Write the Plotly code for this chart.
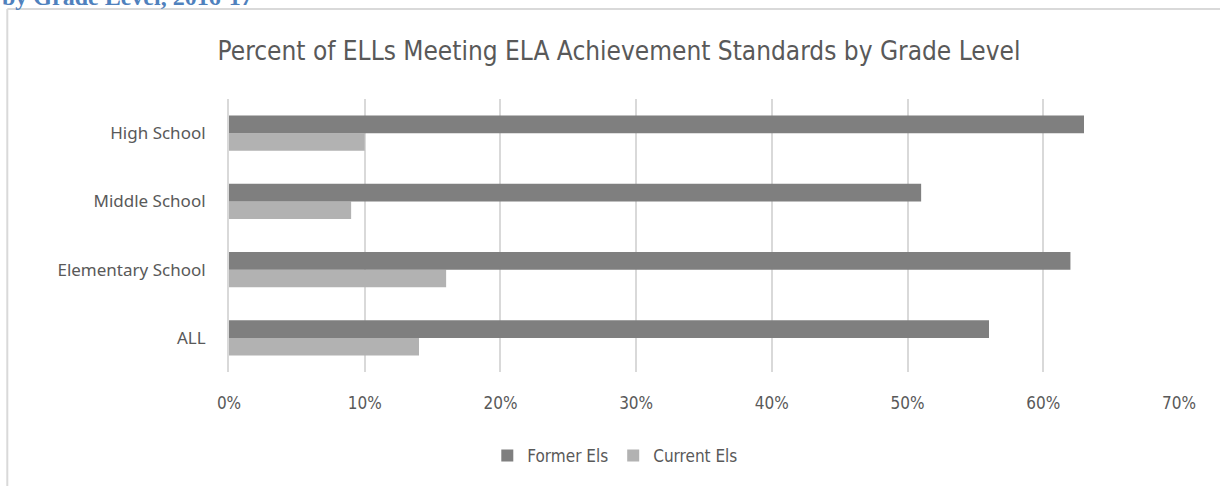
import plotly.graph_objects as go

categories = ["ALL", "Elementary School", "Middle School", "High School"]
former_els = [0.56, 0.62, 0.51, 0.63]
current_els = [0.14, 0.16, 0.09, 0.10]
tick_vals = [0, 0.1, 0.2, 0.3, 0.4, 0.5, 0.6, 0.7]
tick_text = ["0%", "10%", "20%", "30%", "40%", "50%", "60%", "70%"]

W, H = 1220, 486
L, R = 228.7, 1178.7
T, B = 99, 372
pw, ph = R - L, B - T

NARROW = "'Liberation Sans Narrow', 'Arial Narrow', 'DejaVu Sans Condensed', 'Roboto Condensed', sans-serif"

def px(x):
    return (x - L) / pw

def py(y):
    return (B - y) / ph

fig = go.Figure()
fig.add_trace(go.Bar(
    y=categories, x=current_els, name="Current Els", orientation="h",
    marker=dict(color="#b2b2b2", line=dict(width=0)),
))
fig.add_trace(go.Bar(
    y=categories, x=former_els, name="Former Els", orientation="h",
    marker=dict(color="#7f7f7f", line=dict(width=0)),
))

fig.update_layout(
    width=W, height=H,
    margin=dict(l=L, r=W - R, t=T, b=H - B, pad=0, autoexpand=False),
    paper_bgcolor="white", plot_bgcolor="white",
    barmode="group", bargap=0.48, bargroupgap=0,
    showlegend=True,
    legend=dict(
        orientation="h", x=px(615), y=py(456), xanchor="center", yanchor="middle",
        traceorder="reversed",
        font=dict(family=NARROW, size=17, color="#595959"),
        itemwidth=30,
    ),
    title=dict(
        text="Percent of ELLs Meeting ELA Achievement Standards by Grade Level",
        xref="container", x=619 / W, xanchor="center", y=1 - 51 / H, yanchor="middle",
        font=dict(family=NARROW, size=26, color="#595959"),
    ),
    xaxis=dict(
        range=[0, 0.7], tickvals=tick_vals, ticktext=tick_text,
        showgrid=True, gridcolor="#d9d9d9", gridwidth=2,
        zeroline=False, showline=False,
        ticks="outside", ticklen=16, tickcolor="rgba(0,0,0,0)",
        tickfont=dict(family=NARROW, size=17, color="#595959"),
        fixedrange=True,
    ),
    yaxis=dict(
        showgrid=False, zeroline=False, showline=True, linecolor="#d9d9d9", linewidth=2,
        ticks="outside", ticklen=18, tickcolor="rgba(0,0,0,0)",
        tickfont=dict(family="Noto Sans", size=17, color="#595959"),
        categoryorder="array", categoryarray=categories,
    ),
    shapes=[
        dict(type="line", xref="paper", yref="paper",
             x0=px(7), x1=px(1225), y0=py(9), y1=py(9),
             line=dict(color="#d9d9d9", width=2)),
        dict(type="line", xref="paper", yref="paper",
             x0=px(7), x1=px(7), y0=py(9), y1=py(490),
             line=dict(color="#d9d9d9", width=2)),
    ],
    annotations=[
        dict(text="<b>by Grade Level, 2016-17</b>", xref="paper", yref="paper",
             x=px(0), y=py(12), xanchor="left", yanchor="bottom", showarrow=False,
             font=dict(family="Liberation Serif", size=24, color="#4f81bd")),
    ],
)

fig.write_html(
    "out.html",
    config={"displayModeBar": False},
    post_script="document.body.style.margin='0';document.body.style.overflow='hidden';",
)
